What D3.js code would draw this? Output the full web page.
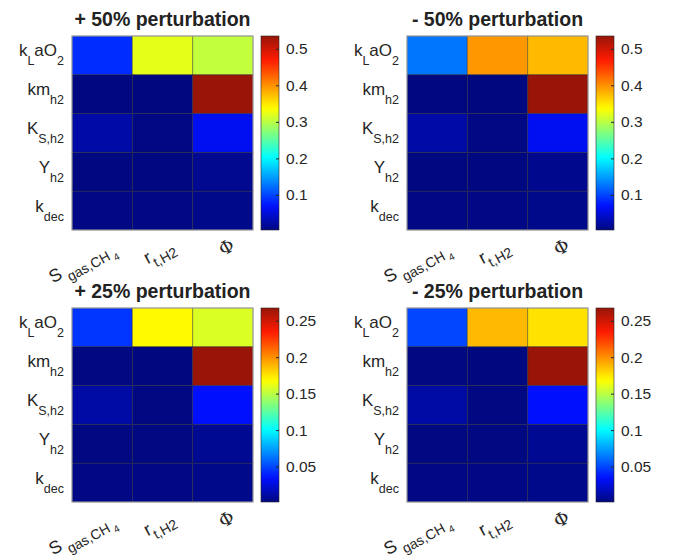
<!DOCTYPE html>
<html>
<head>
<meta charset="utf-8">
<script src="https://cdn.jsdelivr.net/npm/d3@7"></script>
<style>
  body { margin: 0; background: #fff; }
  text { font-family: "Liberation Sans", Arial, sans-serif; fill: #262626; }
</style>
</head>
<body>
<script>

// SVG Size
var width = 673,
    height = 558;

// Labels as [text, level] pieces (0 = normal, 1 = subscript, 2 = sub-subscript)
var rowLabels = [
  [["k", 0], ["L", 1], ["aO", 0], ["2", 1]],
  [["km", 0], ["h2", 1]],
  [["K", 0], ["S,h2", 1]],
  [["Y", 0], ["h2", 1]],
  [["k", 0], ["dec", 1]]
];
var colLabels = [
  [["S", 0], [" gas,CH", 1], [" 4", 2]],
  [["r", 0], ["t,H2", 1]],
  [["\u03A6", 0]]
];

var titles = ["+ 50% perturbation", "- 50% perturbation",
              "+ 25% perturbation", "- 25% perturbation"];

// Sensitivity values, rows x columns
var plus50 = [
  [0.086, 0.323, 0.304],
  [0.005, 0.004, 0.535],
  [0.024, 0.006, 0.063],
  [0.005, 0.005, 0.013],
  [0.007, 0.007, 0.009]
];
var minus50 = [
  [0.127, 0.396, 0.376],
  [0.005, 0.004, 0.535],
  [0.024, 0.006, 0.063],
  [0.005, 0.005, 0.012],
  [0.007, 0.007, 0.009]
];
var plus25 = [
  [0.045, 0.169, 0.158],
  [0.002, 0.0013, 0.2675],
  [0.011, 0.002, 0.034],
  [0.002, 0.002, 0.006],
  [0.003, 0.003, 0.004]
];
var minus25 = [
  [0.050, 0.188, 0.176],
  [0.002, 0.0013, 0.2675],
  [0.011, 0.002, 0.034],
  [0.002, 0.002, 0.006],
  [0.003, 0.003, 0.004]
];

var ticks50 = [0.1, 0.2, 0.3, 0.4, 0.5];
var ticks25 = [0.05, 0.1, 0.15, 0.2, 0.25];

// jet colormap (end colours toned to the picture)
var jetStops = [0, 0.125, 0.375, 0.625, 0.875, 1];
var jetColors = ["#00087f", "#0010ff", "#00ffff", "#ffff00", "#ff1a00", "#981507"];
var jet = d3.scaleLinear().domain(jetStops).range(jetColors).interpolate(d3.interpolateRgb);

var svg = d3.select("body").append("svg")
  .attr("width", width)
  .attr("height", height);

var defs = svg.append("defs");
var grad = defs.append("linearGradient")
  .attr("id", "jetGrad")
  .attr("x1", 0).attr("y1", 1).attr("x2", 0).attr("y2", 0);
grad.selectAll("stop")
  .data(d3.range(0, 1.0001, 0.02))
  .enter().append("stop")
    .attr("offset", function(d){ return d; })
    .attr("stop-color", function(d){ return jet(d); });

// write label pieces into a text element as tspans
function richText(sel, pieces, sizes, shifts) {
  var level = 0;
  pieces.forEach(function(p) {
    sel.append("tspan")
      .attr("font-size", sizes[p[1]])
      .attr("dy", shifts[p[1]] - shifts[level])
      .text(p[0]);
    level = p[1];
  });
}

var panels = [
  { data: plus50,  title: titles[0], ticks: ticks50, x: 72,  y: 36 },
  { data: minus50, title: titles[1], ticks: ticks50, x: 407, y: 36 },
  { data: plus25,  title: titles[2], ticks: ticks25, x: 72,  y: 308 },
  { data: minus25, title: titles[3], ticks: ticks25, x: 407, y: 308 }
];

var mapW = 181, mapH = 194;

panels.forEach(function(p) {
  var g = svg.append("g").attr("transform", "translate(" + p.x + "," + p.y + ")");

  var xScale = d3.scaleBand().domain(d3.range(3)).range([0, mapW]);
  var yScale = d3.scaleBand().domain(d3.range(5)).range([0, mapH]);

  var flat = d3.merge(p.data);
  var ext = d3.extent(flat);
  var tScale = d3.scaleLinear().domain(ext).range([0, 1]);

  // cells
  p.data.forEach(function(row, i) {
    g.selectAll(".r" + i)
      .data(row)
      .enter().append("rect")
        .attr("x", function(d, j){ return xScale(j); })
        .attr("y", yScale(i))
        .attr("width", xScale.bandwidth())
        .attr("height", yScale.bandwidth())
        .attr("fill", function(d){ return jet(tScale(d)); })
        .attr("stroke", "#262626")
        .attr("stroke-opacity", 0.4)
        .attr("stroke-width", 1);
  });

  g.append("rect")
    .attr("width", mapW).attr("height", mapH)
    .attr("fill", "none")
    .attr("stroke", "#a8a8a8")
    .attr("stroke-width", 1);

  // title
  g.append("text")
    .attr("x", mapW / 2)
    .attr("y", -10)
    .attr("text-anchor", "middle")
    .attr("font-size", 19.5)
    .attr("font-weight", "bold")
    .style("fill", "#222")
    .text(p.title);

  // row labels
  rowLabels.forEach(function(lab, i) {
    var t = g.append("text")
      .attr("x", -8)
      .attr("y", yScale(i) + yScale.bandwidth() / 2 + 1)
      .attr("text-anchor", "end");
    richText(t, lab, [17, 12.5, 10], [0, 9, 12]);
  });

  // column labels
  colLabels.forEach(function(lab, j) {
    var cx = xScale(j) + xScale.bandwidth() / 2 + 13;
    var cy = mapH + 19;
    var t = g.append("text")
      .attr("transform", "translate(" + cx + "," + cy + ") rotate(-29)")
      .attr("text-anchor", "end");
    if (j === 2) t.style("font-family", "'DejaVu Serif', serif");
    richText(t, lab, [18, 14, 10], [0, 7, 11]);
  });

  // colorbar
  var cb = g.append("g").attr("transform", "translate(" + (mapW + 8) + ",0)");
  var cbW = 18;
  var cScale = d3.scaleLinear().domain(ext).range([mapH, 0]);
  cb.append("rect")
    .attr("width", cbW).attr("height", mapH)
    .attr("fill", "url(#jetGrad)")
    .attr("stroke", "#262626")
    .attr("stroke-width", 0.6);

  var cAxis = d3.axisRight(cScale)
    .tickValues(p.ticks)
    .tickSize(-3)
    .tickPadding(7)
    .tickFormat(d3.format("~g"));
  var ax = cb.append("g")
    .attr("transform", "translate(" + cbW + ",0)")
    .call(cAxis);
  ax.select(".domain").remove();
  ax.selectAll("line").attr("stroke", "#262626");
  ax.selectAll("text")
    .attr("font-size", 15.5)
    .attr("font-family", null);
});

</script>
</body>
</html>
